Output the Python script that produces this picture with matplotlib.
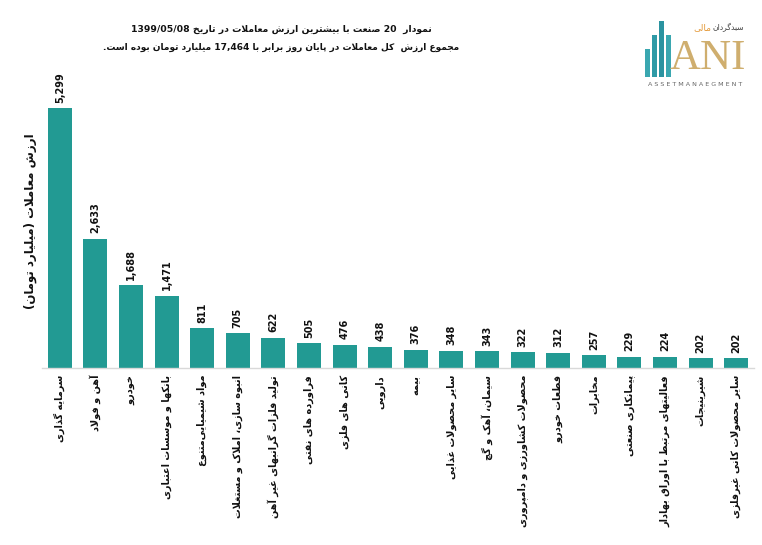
import re
import matplotlib
matplotlib.use("Agg")
import matplotlib.pyplot as plt

# ---------------- data ----------------
categories = [
    "سرمایه گذاری",
    "آهن و فولاد",
    "خودرو",
    "بانکها و موسسات اعتباری",
    "مواد شیمیایی‌متنوع",
    "انبوه سازی، املاک و مستغلات",
    "تولید فلزات گرانبهای غیر آهن",
    "فراورده های نفتی",
    "کانی های فلزی",
    "دارویی",
    "بیمه",
    "سایر محصولات غذایی",
    "سیمان، آهک و گچ",
    "محصولات کشاورزی و دامپروری",
    "قطعات خودرو",
    "مخابرات",
    "پیمانکاری صنعتی",
    "فعالیتهای مرتبط با اوراق بهادار",
    "شیرینیجات",
    "سایر محصولات کانی غیرفلزی",
]
values = [5299, 2633, 1688, 1471, 811, 705, 622, 505, 476, 438,
          376, 348, 343, 322, 312, 257, 229, 224, 202, 202]
title_line1 = "نمودار  20 صنعت با بیشترین ارزش معاملات در تاریخ 1399/05/08"
title_line2 = "مجموع ارزش  کل معاملات در پایان روز برابر با 17,464 میلیارد تومان بوده است."
ylabel_text = "ارزش معاملات (میلیارد تومان)"
logo_fa_1 = "سبدگردان"
logo_fa_2 = "مالی"
logo_latin = "ANI"
logo_sub = "A S S E T M A N A E G M E N T"
logo_bar_heights = [2.0, 3.0, 4.0, 3.0]

# ---------------- Arabic/Persian shaping (presentation forms) ----------------
FORMS = {
    "\u0621": (0xFE80, None, None, None),
    "\u0622": (0xFE81, 0xFE82, None, None),
    "\u0623": (0xFE83, 0xFE84, None, None),
    "\u0624": (0xFE85, 0xFE86, None, None),
    "\u0625": (0xFE87, 0xFE88, None, None),
    "\u0626": (0xFE89, 0xFE8A, 0xFE8B, 0xFE8C),
    "\u0627": (0xFE8D, 0xFE8E, None, None),
    "\u0628": (0xFE8F, 0xFE90, 0xFE91, 0xFE92),
    "\u0629": (0xFE93, 0xFE94, None, None),
    "\u062A": (0xFE95, 0xFE96, 0xFE97, 0xFE98),
    "\u062B": (0xFE99, 0xFE9A, 0xFE9B, 0xFE9C),
    "\u062C": (0xFE9D, 0xFE9E, 0xFE9F, 0xFEA0),
    "\u062D": (0xFEA1, 0xFEA2, 0xFEA3, 0xFEA4),
    "\u062E": (0xFEA5, 0xFEA6, 0xFEA7, 0xFEA8),
    "\u062F": (0xFEA9, 0xFEAA, None, None),
    "\u0630": (0xFEAB, 0xFEAC, None, None),
    "\u0631": (0xFEAD, 0xFEAE, None, None),
    "\u0632": (0xFEAF, 0xFEB0, None, None),
    "\u0633": (0xFEB1, 0xFEB2, 0xFEB3, 0xFEB4),
    "\u0634": (0xFEB5, 0xFEB6, 0xFEB7, 0xFEB8),
    "\u0635": (0xFEB9, 0xFEBA, 0xFEBB, 0xFEBC),
    "\u0636": (0xFEBD, 0xFEBE, 0xFEBF, 0xFEC0),
    "\u0637": (0xFEC1, 0xFEC2, 0xFEC3, 0xFEC4),
    "\u0638": (0xFEC5, 0xFEC6, 0xFEC7, 0xFEC8),
    "\u0639": (0xFEC9, 0xFECA, 0xFECB, 0xFECC),
    "\u063A": (0xFECD, 0xFECE, 0xFECF, 0xFED0),
    "\u0641": (0xFED1, 0xFED2, 0xFED3, 0xFED4),
    "\u0642": (0xFED5, 0xFED6, 0xFED7, 0xFED8),
    "\u0643": (0xFED9, 0xFEDA, 0xFEDB, 0xFEDC),
    "\u0644": (0xFEDD, 0xFEDE, 0xFEDF, 0xFEE0),
    "\u0645": (0xFEE1, 0xFEE2, 0xFEE3, 0xFEE4),
    "\u0646": (0xFEE5, 0xFEE6, 0xFEE7, 0xFEE8),
    "\u0647": (0xFEE9, 0xFEEA, 0xFEEB, 0xFEEC),
    "\u0648": (0xFEED, 0xFEEE, None, None),
    "\u0649": (0xFEEF, 0xFEF0, None, None),
    "\u064A": (0xFEF1, 0xFEF2, 0xFEF3, 0xFEF4),
    "\u067E": (0xFB56, 0xFB57, 0xFB58, 0xFB59),
    "\u0686": (0xFB7A, 0xFB7B, 0xFB7C, 0xFB7D),
    "\u0698": (0xFB8A, 0xFB8B, None, None),
    "\u06A9": (0xFB8E, 0xFB8F, 0xFB90, 0xFB91),
    "\u06AF": (0xFB92, 0xFB93, 0xFB94, 0xFB95),
    "\u06CC": (0xFBFC, 0xFBFD, 0xFBFE, 0xFBFF),
}
LAM_ALEF = {"\u0622": (0xFEF5, 0xFEF6), "\u0623": (0xFEF7, 0xFEF8),
            "\u0625": (0xFEF9, 0xFEFA), "\u0627": (0xFEFB, 0xFEFC)}


def dual(c):
    f = FORMS.get(c)
    return f is not None and f[2] is not None


def joins(c):
    f = FORMS.get(c)
    return f is not None and f[1] is not None


def shape(s):
    out = []
    i = 0
    n = len(s)
    while i < n:
        c = s[i]
        if c not in FORMS:
            if c != "\u200c":
                out.append(c)
            i += 1
            continue
        prev = s[i - 1] if i > 0 else ""
        nxt = s[i + 1] if i + 1 < n else ""
        cp = dual(prev) and joins(c)
        if c == "\u0644" and nxt in LAM_ALEF:
            iso, fin = LAM_ALEF[nxt]
            out.append(chr(fin if cp else iso))
            i += 2
            continue
        cn = dual(c) and joins(nxt)
        iso, fin, ini, med = FORMS[c]
        if cp and cn:
            code = med
        elif cp:
            code = fin
        elif cn:
            code = ini
        else:
            code = iso
        out.append(chr(code))
        i += 1
    return "".join(out)


MIRROR = str.maketrans("()", ")(")
LTR_RUN = re.compile(r"([0-9A-Za-z]+(?:[/,.:][0-9A-Za-z]+)*)")


def fa(s):
    shaped = shape(s)
    parts = LTR_RUN.split(shaped)
    vis = []
    for k, p in enumerate(parts):
        if k % 2 == 1:
            vis.append(p)
        else:
            vis.append(p[::-1].translate(MIRROR))
    return "".join(reversed(vis))


# ---------------- figure ----------------
plt.rcParams["font.family"] = ["DejaVu Sans"]
teal = "#229a93"

fig = plt.figure(figsize=(7.62, 5.45), dpi=100)
ax = fig.add_axes([42 / 762, 1 - 368 / 545, 712 / 762, 294 / 545])

x = list(range(len(values)))
ax.bar(x, values, width=0.67, color=teal)
ax.set_xlim(-0.5, len(values) - 0.5)
ax.set_ylim(0, 6000)

for sp in ("top", "right", "left"):
    ax.spines[sp].set_visible(False)
ax.spines["bottom"].set_color("#d9d9d9")
ax.spines["bottom"].set_linewidth(1.0)
ax.set_yticks([])
ax.set_xticks(x)
ax.set_xticklabels([fa(c) for c in categories], rotation=90, ha="center",
                   va="top", fontsize=7, fontweight="bold", color="#111111")
ax.tick_params(axis="x", length=0, pad=5)

for xi, v in zip(x, values):
    ax.annotate(f"{v:,}", (xi, v), xytext=(0, 4), textcoords="offset points",
                rotation=90, ha="center", va="bottom", fontsize=7,
                fontweight="bold", color="#111111")

fig.text(30 / 762, 1 - 221 / 545, fa(ylabel_text), rotation=90, ha="center",
         va="center", fontsize=8.5, fontweight="bold", color="#111111")

fig.text(281 / 762, 1 - 29 / 545, fa(title_line1), ha="center", va="center",
         fontsize=6.7, fontweight="bold", color="#111111")
fig.text(281 / 762, 1 - 47 / 545, fa(title_line2), ha="center", va="center",
         fontsize=6.5, fontweight="bold", color="#111111")

# ---------------- logo ----------------
lax = fig.add_axes([644 / 762, 1 - 77 / 545, 28 / 762, 56 / 545])
lax.bar(range(len(logo_bar_heights)), logo_bar_heights, width=0.7,
        color=["#3aa7b0", "#2f9aa6", "#2b93a0", "#3aa7b0"])
lax.set_xlim(-0.5, len(logo_bar_heights) - 0.5)
lax.set_ylim(0, max(logo_bar_heights))
lax.axis("off")

fig.text(708 / 762, 1 - 78 / 545, logo_latin, ha="center", va="bottom",
         fontsize=31, family="Liberation Serif", color="#cfae6e")
fig.text(744 / 762, 1 - 28 / 545, fa(logo_fa_1), ha="right", va="center",
         fontsize=5.5, color="#444444")
fig.text(711 / 762, 1 - 28 / 545, fa(logo_fa_2), ha="right", va="center",
         fontsize=6.5, color="#e49a3a")
fig.text(695 / 762, 1 - 84 / 545, logo_sub, ha="center", va="center",
         fontsize=4.6, color="#666666")

fig.savefig("out.png", dpi=100)
